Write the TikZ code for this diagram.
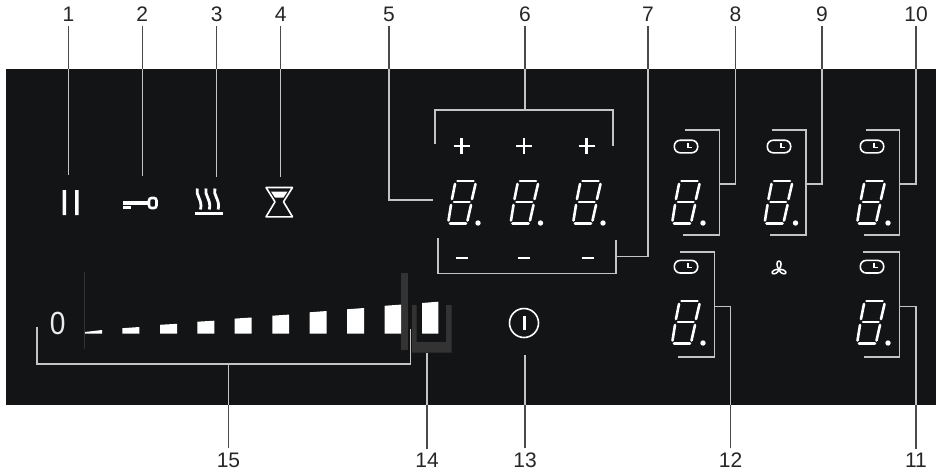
\documentclass[tikz,border=0pt]{standalone}
\usepackage{fontspec}
\setmainfont{Liberation Sans}
\definecolor{panel}{HTML}{121416}
\definecolor{leadgrey}{HTML}{C4C4C4}
\definecolor{stubgrey}{HTML}{4A4A4A}
\definecolor{uband}{HTML}{333333}
\tikzset{
  leader/.style={draw=leadgrey,line width=1.2pt},
  stub/.style={draw=stubgrey,line width=1.2pt},
  callout/.style={font=\fontsize{21}{21}\selectfont,text=black!85,inner sep=4pt},
  glyph/.style={draw=white,line width=2.5pt},
  seg/.style={draw=white,line width=2.6pt,line cap=round},
  bar/.style={fill=white,draw=none},
  clockface/.style={draw=white,line width=1.6pt,rounded corners=6pt},
}
\newcommand{\sevenseg}[3]{%
  \begin{scope}[shift={(#1,#2)}]
    \draw[seg] (9.5,-43.5) -- (25.5,-43.5);
    \draw[seg] (6,-22.5) -- (21.5,-22.5);
    \draw[seg] (2,-1) -- (18,-1);
    \draw[seg] (7,-40.5) -- (4,-25.5);
    \draw[seg] (3,-19.5) -- (0.5,-4);
    \draw[seg] (27.5,-40.5) -- (24,-25.5);
    \draw[seg] (23,-19.5) -- (19.5,-4);
    \fill[white] (#3,-1.5) circle (2.7);
  \end{scope}}
\newcommand{\clockicon}[2]{%
  \begin{scope}[shift={(#1,#2)}]
    \draw[clockface] (-11.7,-6.3) rectangle (11.7,6.3);
    \draw[white,line width=1.1pt] (2,-3.5) -- (2,0.8) -- (6.3,0.8);
  \end{scope}}
\newcommand{\plusmark}[2]{\draw[glyph] (#1-8,#2) -- (#1+8,#2) (#1,#2-8) -- (#1,#2+8);}
\newcommand{\minusmark}[2]{\draw[glyph,line width=2.4pt] (#1-6,#2) -- (#1+6,#2);}
\newcommand{\powerbar}[4]{\fill[bar] (#1,333.7) -- (#1,#3) -- (#2,#4) -- (#2,333.7) -- cycle;}
\begin{document}
\begin{tikzpicture}[x=1pt,y=-1pt]
\useasboundingbox (0,0) rectangle (937,472);
\fill[white] (0,0) rectangle (937,472);
\fill[panel] (6,68.5) rectangle (936,405);
% U band and stop marks
\fill[uband] (401,272.5) rectangle (408,349.5);
\fill[uband] (412,305) -- (416.5,305) -- (416.5,342) -- (446,342) -- (446,305) -- (451.5,305) -- (451.5,352.7) -- (412,352.7) -- cycle;
\draw[uband,line width=0.6pt] (84.5,272) -- (84.5,349);
% power bars
\fill[bar] (85,333.7) -- (85,332) -- (102,330) -- (102,333.7) -- cycle;
\powerbar{122.3}{139.3}{328.2}{327}
\powerbar{160}{177}{324.8}{323.8}
\powerbar{197.3}{214.3}{321.7}{320.7}
\powerbar{234.7}{251.7}{318.6}{317.5}
\powerbar{272.3}{289}{315.7}{314.6}
\powerbar{309.5}{326.7}{312.3}{311}
\powerbar{347}{364}{309.3}{308}
\powerbar{384.5}{401}{305.8}{304.6}
\powerbar{422}{438.3}{303}{301.7}
\node[text=white!92!black,font=\fontsize{32}{32}\selectfont,xscale=0.88,inner sep=0pt] (zero) at (57.8,323.5) {0};
% icons
\fill[white] (62.5,190) rectangle (66,215) (75,190) rectangle (78.5,215);
\fill[white] (122.7,201) rectangle (149,204.6);
\fill[white] (122.7,206) rectangle (130.7,209.3);
\draw[white,line width=2.6pt,rounded corners=2.5pt] (149,198) rectangle (156.5,208);
\fill[white] (195,211.7) rectangle (222.7,215);
\foreach \hx in {0,8.8,17.6}{
  \draw[white,line width=2.8pt] (197.3+\hx,188.5) .. controls (195+\hx,195) and (203+\hx,200) .. (200.5+\hx,209.5);
}
\draw[white,line width=1.6pt,line join=round] (266,187.5) -- (292.5,187.5) -- (283.5,201.8) -- (292.5,216.8) -- (266,216.8) -- (275,201.8) -- cycle;
\fill[white] (271,191.5) -- (287.5,191.5) -- (283.5,197.5) -- (275,197.5) -- cycle;
% plus / minus
\plusmark{461.5}{146}\plusmark{524}{146}\plusmark{586.5}{146}
\minusmark{461.5}{258}\minusmark{524}{258}\minusmark{587.5}{258}
% digits
\sevenseg{448}{224.5}{30}
\sevenseg{510.5}{224.5}{30}
\sevenseg{573}{224.5}{30}
\sevenseg{672}{224.5}{31}
\sevenseg{764.5}{224.5}{31}
\sevenseg{857}{224.5}{31}
\sevenseg{672}{344.5}{31}
\sevenseg{857}{344.5}{31}
\clockicon{686}{146.5}\clockicon{779}{146.5}\clockicon{872}{146.5}
\clockicon{686}{266.7}\clockicon{872}{266.7}
% fan
\begin{scope}[shift={(779,269.5)},white,line width=1.5pt,line join=round]
  \draw (0,0) .. controls (-2.5,-3) and (-3,-8.5) .. (0,-8.5) .. controls (3,-8.5) and (2.5,-3) .. (0,0);
  \draw (0,0) .. controls (-1,3.5) and (-4.5,5) .. (-6.5,4) .. controls (-8.5,2.5) and (-4,-1) .. (0,0);
  \draw (0,0) .. controls (1,3.5) and (4.5,5) .. (6.5,4) .. controls (8.5,2.5) and (4,-1) .. (0,0);
\end{scope}
% power symbol
\node[circle,draw=white,line width=1.6pt,minimum size=29pt,inner sep=0pt] (pwr) at (524,323) {};
\draw[white,line width=3pt] (524,316) -- (524,330);
% callouts
\foreach \nm/\px in {1/68.5,2/142.3,3/216.7,4/280.7,5/389,6/525,7/648,8/735.5,9/822,10/916}{
  \node[callout] (L\nm) at (\px,14.5) {\nm};
  \coordinate (P\nm) at (\px,68.5);
  \draw[stub] (L\nm.south) -- (P\nm);
}
\foreach \nm/\px in {15/228.5,14/427,13/525,12/730.5,11/916}{
  \node[callout] (L\nm) at (\px,460) {\nm};
  \coordinate (P\nm) at (\px,405);
  \draw[stub] (L\nm.north) -- (P\nm);
}
\coordinate (e1) at (68.5,175);
\coordinate (e2) at (142.3,176);
\coordinate (e3) at (216.7,177);
\coordinate (e4) at (280.7,177);
\draw[leader] (P1) -- (e1);
\draw[leader] (P2) -- (e2);
\draw[leader] (P3) -- (e3);
\draw[leader] (P4) -- (e4);
% 5
\coordinate (e5) at (433,200);
\draw[leader] (P5) -- (389,200) -- (e5);
% 6
\coordinate (b6a) at (435,144);
\coordinate (b6b) at (613,146);
\draw[leader] (b6a) -- (435,110) -- (613,110) -- (b6b);
\draw[leader] (P6) -- (525,110);
% 7
\coordinate (b7a) at (438,238);
\coordinate (b7b) at (616,240);
\draw[leader] (b7a) -- (438,273.5) -- (616,273.5) -- (b7b);
\draw[leader] (P7) -- (648,256.5) -- (616,256.5);
% 8 9 10
\draw[leader] (685,130) -- (719.5,130) -- (719.5,235) -- (683,235);
\draw[leader] (P8) -- (735.5,184) -- (719.5,184);
\draw[leader] (772,130) -- (806,130) -- (806,235) -- (770,235);
\draw[leader] (P9) -- (822,184) -- (806,184);
\draw[leader] (866,130) -- (899.5,130) -- (899.5,235) -- (864,235);
\draw[leader] (P10) -- (916,184) -- (899.5,184);
% 12 11
\draw[leader] (680,252) -- (714.5,252) -- (714.5,357) -- (678,357);
\draw[leader] (P12) -- (730.5,306.5) -- (714.5,306.5);
\draw[leader] (863,252) -- (899.5,252) -- (899.5,357) -- (864,357);
\draw[leader] (P11) -- (916,306.5) -- (899.5,306.5);
% 13 14 15
\coordinate (e13) at (525,355);
\coordinate (e14) at (427,353);
\draw[leader] (P13) -- (e13);
\draw[leader] (P14) -- (e14);
\draw[leader] (37,327) -- (37,364) -- (410.5,364) -- (410.5,329);
\draw[leader] (P15) -- (228.5,364);
\end{tikzpicture}
\end{document}
